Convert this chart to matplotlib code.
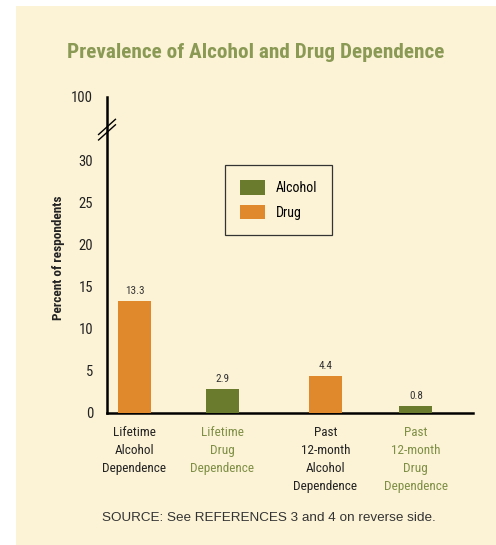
import matplotlib
matplotlib.use("Agg")
import matplotlib.pyplot as plt
from matplotlib.patches import Rectangle, Patch

# data
categories = ["Lifetime\nAlcohol\nDependence", "Lifetime\nDrug\nDependence",
              "Past\n12-month\nAlcohol\nDependence", "Past\n12-month\nDrug\nDependence"]
values = [13.3, 2.9, 4.4, 0.8]
value_labels = ["13.3", "2.9", "4.4", "0.8"]
tick_values = [0, 5, 10, 15, 20, 25, 30]
tick_labels = ["0", "5", "10", "15", "20", "25", "30"]
legend_labels = ["Alcohol", "Drug"]

# layout
xpos = [0, 1, 2.17, 3.2]
top_pos = 37.5          # where the "100" label sits above the break
BG = "#FCF3D6"
ORANGE = "#E0892C"
GREEN = "#6B7B2E"
TITLE_GREEN = "#8A9A55"
LABEL_GREEN = "#7E8F45"
bar_colors = [ORANGE, GREEN, ORANGE, GREEN]
label_colors = ["#222222", LABEL_GREEN, "#222222", LABEL_GREEN]

COND = ["Roboto Condensed", "Liberation Sans Narrow", "DejaVu Sans"]

W, H = 496, 545
fig = plt.figure(figsize=(W / 100, H / 100), dpi=100)
fig.patch.set_facecolor("white")
fig.patches.append(Rectangle((16 / W, 0), 1 - 16 / W, 1 - 6 / H,
                             transform=fig.transFigure, facecolor=BG,
                             edgecolor="none", zorder=-10))

ax = fig.add_axes([107 / W, 1 - 413 / H, (473 - 107) / W, (413 - 97) / H])
ax.set_facecolor("none")

ax.bar(xpos, values, width=0.375, color=bar_colors, zorder=3)
for x, v, t in zip(xpos, values, value_labels):
    ax.text(x, v + 0.6, t, ha="center", va="bottom", fontsize=8,
            family=COND, color="#333333")

ax.set_xlim(-0.3125, 3.85)
ax.set_ylim(0, top_pos)
ax.set_yticks(tick_values + [top_pos])
ax.set_yticklabels(tick_labels + ["100"], family=COND, fontsize=10.5, color="#222222")
ax.tick_params(axis="y", length=0, pad=10)
ax.set_xticks([])

for s in ["top", "right"]:
    ax.spines[s].set_visible(False)
ax.spines["left"].set_linewidth(1.8)
ax.spines["bottom"].set_linewidth(1.8)

# axis break marks
for yc in (33.3, 33.95):
    ax.plot([-0.023, 0.023], [yc - 0.9, yc + 0.9], transform=ax.get_yaxis_transform(),
            color="black", lw=1.0, clip_on=False)

ax.set_ylabel("Percent of respondents", family=COND, fontsize=9.5,
              fontweight="bold", color="#222222")
ax.yaxis.set_label_coords(-0.115, 0.49)

for x, c, col in zip(xpos, categories, label_colors):
    ax.annotate(c, xy=(x, 0), xycoords=("data", "axes fraction"),
                xytext=(0, -9.5), textcoords="offset points", ha="center", va="top",
                fontsize=9.5, family=COND, color=col, linespacing=1.5)

handles = [Patch(facecolor=GREEN), Patch(facecolor=ORANGE)]
leg = ax.legend(handles, legend_labels, loc="upper left",
                bbox_to_anchor=((225 - 107) / (473 - 107), (413 - 165) / (413 - 97)),
                prop={"family": COND, "size": 10}, frameon=True, fancybox=False,
                edgecolor="#333333", facecolor=BG, framealpha=1,
                handlelength=1.75, handleheight=1.2, borderpad=1.1,
                labelspacing=0.7, handletextpad=0.8, borderaxespad=0)
leg.get_frame().set_linewidth(0.9)

fig.text(256 / W, 1 - 53 / H, "Prevalence of Alcohol and Drug Dependence",
         ha="center", va="center", fontsize=15.3, fontweight="bold",
         family=COND, color=TITLE_GREEN)
fig.text(269 / W, 1 - 518 / H, "SOURCE: See REFERENCES 3 and 4 on reverse side.",
         ha="center", va="center", fontsize=9.7,
         family=["Liberation Sans", "DejaVu Sans"], color="#333333")

fig.savefig("out.png", dpi=100, facecolor=fig.get_facecolor())
